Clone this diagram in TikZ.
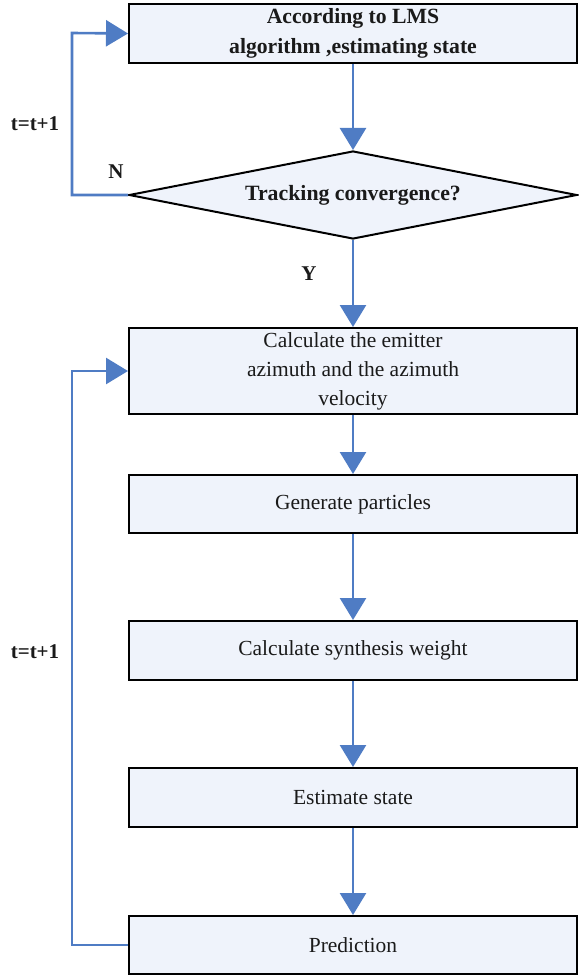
\documentclass[tikz,border=0pt]{standalone}
\usepackage{fontspec}
\setmainfont{Liberation Serif}
\usetikzlibrary{arrows.meta,shapes.geometric}
\definecolor{flowblue}{HTML}{4F7CC4}
\definecolor{boxfill}{HTML}{EFF3FB}
\definecolor{txt}{HTML}{1A1A1A}
\begin{document}
\begin{tikzpicture}[x=1pt,y=-1pt,
  stepbox/.style={draw=black,line width=2pt,fill=boxfill,minimum width=448pt,inner sep=0pt,
    align=center,text=txt,font=\fontsize{21.5}{29}\selectfont},
  decbox/.style={draw=black,line width=2pt,fill=boxfill,shape=diamond,aspect=5.09,
    minimum width=448pt,minimum height=88pt,inner sep=0pt,text=txt,
    font=\bfseries\fontsize{21.8}{29}\selectfont},
  flow/.style={draw=flowblue,line width=2.6pt,-{Triangle[length=22pt,width=26pt]}},
  lbl/.style={text=txt,font=\bfseries\fontsize{21}{25}\selectfont,inner sep=0pt}]
\useasboundingbox (0,0) rectangle (578,976);
\node[stepbox,minimum height=59pt,font=\bfseries\fontsize{21.7}{30}\selectfont] (lms) at (353,33.5) {According to LMS\\algorithm ,estimating state};
\node[decbox] (conv) at (353,195) {Tracking convergence?};
\node[stepbox,minimum height=86pt] (azi) at (353,371) {Calculate the emitter\\azimuth and the azimuth\\velocity};
\node[stepbox,minimum height=58pt] (gen) at (353,504) {Generate particles};
\node[stepbox,minimum height=59pt] (syn) at (353,650.5) {Calculate synthesis weight};
\node[stepbox,minimum height=59pt] (est) at (353,797.5) {Estimate state};
\node[stepbox,minimum height=58pt] (pred) at (353,945) {Prediction};
\coordinate (c1) at (72,195);
\coordinate (c2) at (72,33);
\coordinate (c3) at (72,945);
\coordinate (c4) at (72,371);
\draw[flow] (lms.south) -- (conv.north);
\draw[flow] (conv.south) -- (azi.north);
\draw[flow] (azi.south) -- (gen.north);
\draw[flow] (gen.south) -- (syn.north);
\draw[flow] (syn.south) -- (est.north);
\draw[flow] (est.south) -- (pred.north);
\draw[flow] (conv.west) -- (c1) -- (c2) -- (lms.west);
\draw[flow] (pred.west) -- (c3) -- (c4) -- (azi.west);
\node[lbl] (t1) at (35,124) {t=t+1};
\node[lbl] (n) at (116,172) {N};
\node[lbl] (y) at (309,274) {Y};
\node[lbl] (t2) at (35,652) {t=t+1};
\end{tikzpicture}
\end{document}
